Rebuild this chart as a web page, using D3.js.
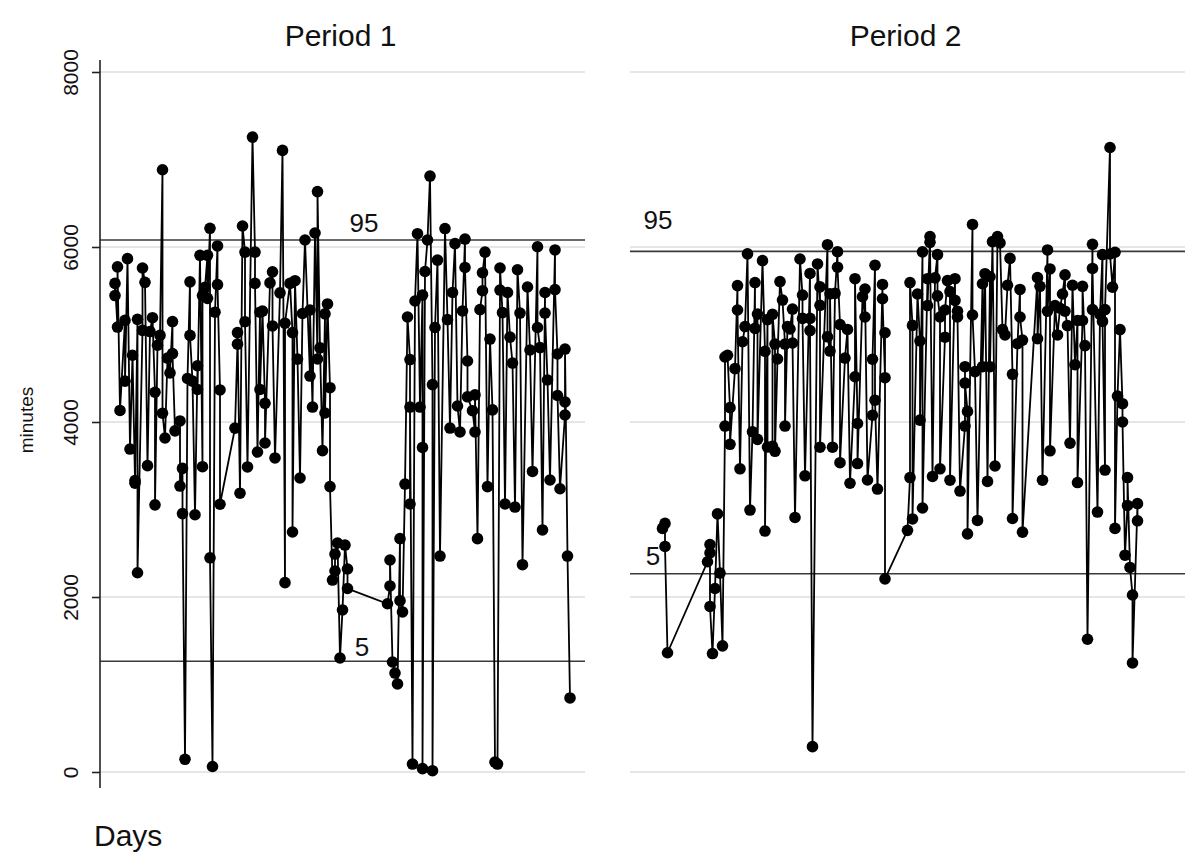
<!DOCTYPE html>
<html><head><meta charset="utf-8">
<script src="https://cdn.jsdelivr.net/npm/d3@7"></script>
<style>body{margin:0;background:#fff}svg{display:block}text{font-family:"Liberation Sans",Arial,Helvetica,sans-serif}</style>
</head><body><svg id="c" width="1200" height="866"></svg>
<script>
// ---- data ----
const panelTitles = ["Period 1", "Period 2"];
const yTicks = [0, 2000, 4000, 6000, 8000];
const pctLabels = ["95", "5"];
const p1Pct = [6080, 1265];
const p2Pct = [5950, 2265];
const p1Days = [6,6,7,7,8,10,10,11,12,13,14,14,15,15,17,17,18,19,20,21,22,22,23,24,25,25,26,27,28,29,29,30,32,32,33,33,34,35,36,36,37,38,39,39,40,41,41,42,43,43,44,44,45,46,47,47,48,48,
54,55,55,56,57,58,58,59,61,62,62,63,64,64,65,66,66,68,69,69,70,72,73,74,74,76,77,77,78,79,80,81,82,84,84,85,86,87,87,88,89,90,90,91,92,92,93,94,94,95,96,97,98,99,99,
115,116,116,117,118,119,120,120,121,122,123,124,124,124,125,126,127,128,129,129,129,130,131,132,133,133,134,135,136,138,139,140,141,142,143,144,145,146,146,147,147,149,150,150,151,152,153,153,154,155,156,157,158,159,160,160,161,162,163,164,165,166,167,168,169,171,172,173,175,175,176,177,178,178,179,180,182,182,183,183,184,186,186,186,187,188];
const p1Minutes = [5445,5584,5085,5773,4132,5161,4467,5867,3691,4763,3331,3300,5173,2277,5047,5760,5596,3501,5034,5192,4340,3053,4877,4990,6883,4100,3817,4731,4561,5148,4782,3899,4012,3268,3470,2953,145,4498,5602,4990,4467,2940,4643,4372,5905,3489,5445,5540,5905,5413,6214,2448,63,5255,6012,5571,4366,3060,
3930,4890,5022,3186,6240,5942,5146,3486,7256,5942,5584,3657,5255,4372,5268,4214,3760,5590,5716,5098,3589,5476,7104,2164,5129,5584,5022,2743,5615,4719,3360,5240,6080,4525,5280,4171,6160,4720,6633,4848,3673,5236,4103,5349,4392,3262,2194,2297,2491,2617,1303,1852,2594,2320,2097,
1923,2126,2423,1257,1131,1006,2667,1958,1829,3291,5200,4714,3063,4171,91,5383,6152,4171,5450,3709,39,5720,6080,6811,4427,15,5080,5850,2468,6211,5170,3931,5480,6039,4183,3886,5269,6091,5766,4697,4288,4129,3886,4310,2667,5284,5500,5706,5942,3262,4948,4139,114,91,5508,5760,5250,3063,5480,4970,4674,3028,5740,5245,2369,5543,4823,3435,6003,5080,4850,2766,5480,5245,4480,3337,5966,5514,4777,4303,3237,4080,4229,4834,2468,846];
const p2Days = [13,14,14,15,31,32,32,32,33,34,35,36,37,38,38,39,40,40,42,43,43,44,45,46,47,48,49,50,50,51,51,53,54,54,55,55,57,57,58,58,59,60,61,62,62,63,64,65,65,66,68,69,69,70,72,72,72,73,75,76,76,76,79,79,80,80,81,82,83,83,84,84,86,87,88,90,90,91,91,93,94,94,95,97,97,98,98,99,101,101,102,102,102,
111,112,112,113,113,115,116,116,117,117,119,119,120,120,121,122,123,123,124,124,126,126,127,128,128,130,130,131,131,132,134,134,134,135,135,137,137,138,139,141,141,142,143,144,144,145,146,147,148,149,150,151,152,153,153,155,156,156,157,157,
163,163,164,165,167,167,168,168,170,171,172,173,174,174,175,176,177,178,179,179,181,181,182,183,185,185,185,187,188,189,189,190,190,192,192,193,194,194,195,196,197,197,198,199,199,200,201,201,203,203];
const p2Minutes = [2784,2841,2578,1363,2403,2600,2504,1892,1354,2097,2950,2274,1442,3954,4743,4763,4164,3745,4610,5559,5280,3465,4917,5091,5922,2994,3889,5594,5070,5233,3802,5844,4807,2754,5170,3714,3721,5231,4891,3665,4720,5605,5394,4891,3954,5091,5063,5291,4903,2909,5863,5451,5184,3385,5698,5184,5045,290,5806,5334,5544,3712,6026,4974,4811,5465,3712,5470,5946,5769,5114,3535,4731,5058,3300,4517,5638,3983,3525,5432,5200,5520,3337,4077,4717,5792,4249,3234,5572,5409,4506,5020,2207,
2762,3365,5594,5104,2892,5463,4926,4021,5944,3017,5638,5331,6119,6053,3378,5647,5913,5441,5200,3465,4969,5280,5616,5490,3335,5638,5390,5266,5200,3211,3954,4632,4445,4121,2722,6258,5223,4576,2875,5580,4632,5695,3321,5660,4632,6061,3497,6119,6046,5056,4995,5563,5870,4545,2897,4895,5515,5200,4936,2741,
5650,4952,5551,3335,5966,5266,5749,3671,5331,4995,5300,5463,5681,5266,5101,3759,5563,4655,5160,3308,5160,5551,4873,1517,6031,5285,5755,2971,5230,5913,5150,3451,5285,7137,5920,5541,5940,2784,4296,5056,4209,4000,2478,3046,3365,2338,2023,1246,3067,2871];

// ---- drawing ----
const svg = d3.select("#c");
const y = d3.scaleLinear().domain([0, 8000]).range([772, 72]);
const panels = [
  {title: panelTitles[0], days: p1Days, vals: p1Minutes, pct: p1Pct, x: d3.scaleLinear().domain([0,194]).range([100,585]),
   pctPos: [[364, -8], [362, -5]], axis: true},
  {title: panelTitles[1], days: p2Days, vals: p2Minutes, pct: p2Pct, x: d3.scaleLinear().domain([0,222]).range([630,1185]),
   pctPos: [[658, -22], [653, -9]], axis: false}
];
panels.forEach(p => {
  const [x0, x1] = p.x.range();
  const g = svg.append("g");
  g.selectAll(".grid").data(yTicks).join("line")
    .attr("x1", x0).attr("x2", x1).attr("y1", d => y(d)).attr("y2", d => y(d))
    .attr("stroke", "#e6e6e6").attr("stroke-width", 1.8);
  g.selectAll(".pct").data(p.pct).join("line")
    .attr("x1", x0).attr("x2", x1).attr("y1", d => y(d)).attr("y2", d => y(d))
    .attr("stroke", "#3a3a3a").attr("stroke-width", 1.6);
  g.selectAll(".pctl").data(p.pct).join("text")
    .attr("x", (d, i) => p.pctPos[i][0]).attr("y", (d, i) => y(d) + p.pctPos[i][1])
    .attr("text-anchor", "middle").attr("font-size", 26).attr("fill", "#111")
    .text((d, i) => pctLabels[i]);
  g.append("text").attr("x", (x0 + x1) / 2 - 2).attr("y", 46).attr("text-anchor", "middle")
    .attr("font-size", 30).attr("fill", "#111").text(p.title);
  const pts = p.days.map((d, i) => [d, p.vals[i]]);
  g.append("path").datum(pts)
    .attr("d", d3.line().x(d => p.x(d[0])).y(d => y(d[1])))
    .attr("fill", "none").attr("stroke", "#000").attr("stroke-width", 1.8);
  g.selectAll("circle").data(pts).join("circle")
    .attr("cx", d => p.x(d[0])).attr("cy", d => y(d[1])).attr("r", 5.8).attr("fill", "#000");
  if (p.axis) {
    const ax = svg.append("g").attr("transform", "translate(100,0)")
      .call(d3.axisLeft(y).tickValues(yTicks).tickSize(8).tickPadding(12).tickFormat(d3.format("d")));
    ax.select(".domain").attr("d", "M0,60V788").attr("stroke", "#222").attr("stroke-width", 1.6);
    ax.selectAll(".tick line").attr("stroke", "#222").attr("stroke-width", 1.6);
    ax.selectAll(".tick text").attr("font-size", 21).attr("fill", "#111")
      .attr("font-family", '"Liberation Sans",Arial,sans-serif')
      .attr("transform", "rotate(-90)").attr("x", 0).attr("y", -29).attr("dy", "0.35em")
      .attr("text-anchor", "middle");
  }
});
svg.append("text").attr("transform", "translate(33,420) rotate(-90)").attr("text-anchor", "middle")
  .attr("font-size", 19).attr("fill", "#111").text("minutes");
svg.append("text").attr("x", 94).attr("y", 846).attr("font-size", 30).attr("fill", "#111").text("Days");
</script></body></html>
